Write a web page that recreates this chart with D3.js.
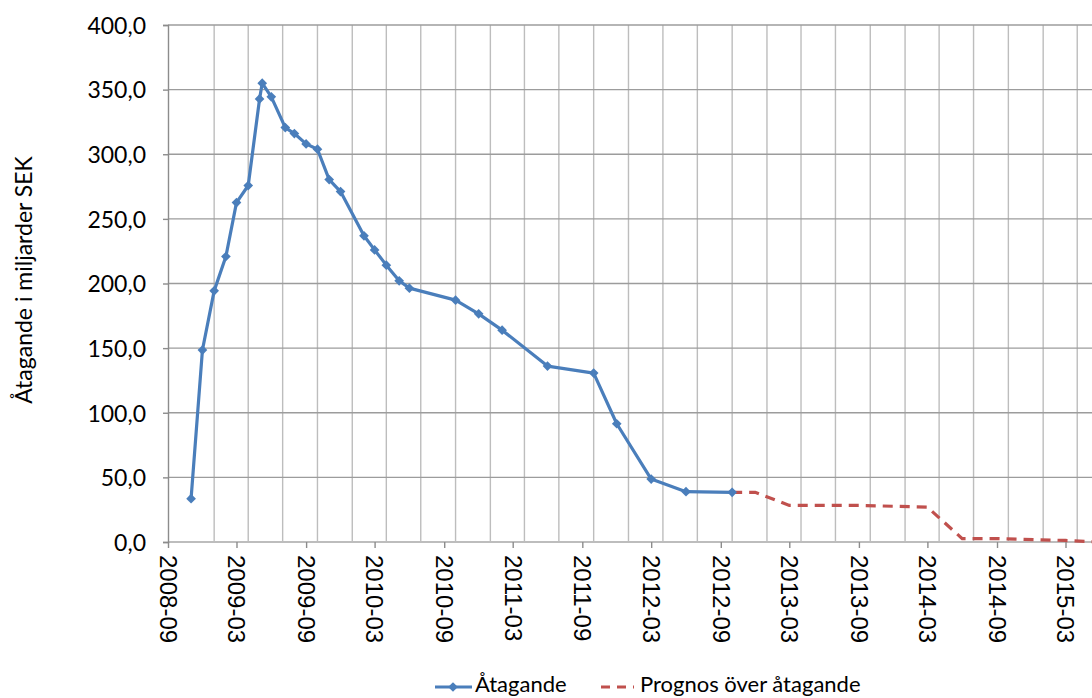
<!DOCTYPE html>
<html><head><meta charset="utf-8">
<script src="https://cdn.jsdelivr.net/npm/d3@7"></script>
<style>body{margin:0;background:#fff}svg{display:block}</style>
</head><body>
<svg id="c" width="1092" height="698"></svg>
<script>
const actualDates = ["2008-11-01","2008-12-01","2009-01-01","2009-02-01","2009-03-01","2009-04-01","2009-05-01","2009-05-08","2009-06-01","2009-07-08","2009-08-01","2009-09-01","2009-10-01","2009-11-01","2009-12-01","2010-02-01","2010-03-01","2010-04-01","2010-05-05","2010-06-01","2010-10-01","2010-12-01","2011-02-01","2011-06-01","2011-10-01","2011-12-01","2012-03-01","2012-06-01","2012-10-01"];
const actualValues = [33.5,148.5,194.3,220.9,262.6,275.8,342.8,355.0,344.4,320.6,316.0,308.0,303.9,280.4,271.1,236.9,226.0,214.2,202.1,196.4,187.1,176.5,163.9,136.1,130.7,91.5,48.7,38.9,38.4];
const forecastDates = ["2012-10-01","2012-12-01","2013-03-01","2013-09-01","2014-03-01","2014-06-01","2014-09-01","2015-03-01","2015-06-01"];
const forecastValues = [38.4,38.4,28.3,28.3,27.0,2.6,2.6,1.2,0];
const xTickLabels = ["2008-09","2009-03","2009-09","2010-03","2010-09","2011-03","2011-09","2012-03","2012-09","2013-03","2013-09","2014-03","2014-09","2015-03"];
const yTicks = [0,50,100,150,200,250,300,350,400];
const seriesNames = ["Åtagande","Prognos över åtagande"];

const parse = d3.timeParse("%Y-%m-%d");
const svg = d3.select("#c");
const pLeft = 168, pTop = 25, pBottom = 542;
const x = d3.scaleTime().domain([parse("2008-09-01"), parse("2015-03-01")]).range([pLeft, 1065.5]);
const y = d3.scaleLinear().domain([0, 400]).range([pBottom, pTop]);
const xEnd = x(parse("2015-09-01"));
const sansFont = "Lato, 'Open Sans', sans-serif";

// vertical gridlines every 3 months
const quarterTicks = d3.timeMonth.every(3).range(parse("2008-12-01"), parse("2015-09-02"));
svg.append("g").selectAll("line").data(quarterTicks).join("line")
  .attr("x1", d => x(d)).attr("x2", d => x(d)).attr("y1", pTop).attr("y2", pBottom)
  .attr("stroke", d => (d.getMonth() === 2 || d.getMonth() === 8) ? "#b8c8e4" : "#bdbdbd")
  .attr("stroke-width", 1.4);

// horizontal gridlines
svg.append("g").selectAll("line").data(yTicks).join("line")
  .attr("x1", pLeft).attr("x2", xEnd).attr("y1", d => y(d)).attr("y2", d => y(d))
  .attr("stroke", d => d === 0 ? "#bdbdbd" : "#9c9c9c").attr("stroke-width", d => d === 0 ? 2 : 1.4);

// y axis
const yAxis = d3.axisLeft(y).tickValues(yTicks).tickSize(5).tickPadding(17)
  .tickFormat(d => d3.format(".1f")(d).replace(".", ","));
const gy = svg.append("g").attr("transform", `translate(${pLeft},0)`).call(yAxis);
gy.select(".domain").attr("stroke", "#8c8c8c").attr("stroke-width", 1.4);
gy.selectAll(".tick line").attr("stroke", "#8c8c8c").attr("stroke-width", 1.4);
gy.selectAll("text").attr("font-family", sansFont).attr("font-size", 23).attr("fill", "#000").attr("dy", "0.36em");

// x axis
const majorTicks = xTickLabels.map(s => parse(s + "-01"));
const xAxis = d3.axisBottom(x).tickValues(majorTicks).tickSize(6)
  .tickFormat(d3.timeFormat("%Y-%m"));
const gx = svg.append("g").attr("transform", `translate(0,${pBottom})`).call(xAxis);
gx.select(".domain").remove();
gx.selectAll(".tick line").attr("stroke", "#8c8c8c").attr("stroke-width", 1.4);
gx.selectAll("text")
  .attr("font-family", "'Liberation Sans', Arial, sans-serif").attr("font-size", 24).attr("fill", "#000")
  .attr("text-anchor", "start").attr("dy", "0.36em")
  .attr("transform", "translate(0,13) rotate(90)").attr("y", 0).attr("x", 0);

// y title
svg.append("text").attr("transform", "translate(32,280) rotate(-90)")
  .attr("text-anchor", "middle").attr("font-family", sansFont)
  .attr("font-size", 23).attr("fill", "#000").text("Åtagande i miljarder SEK");

// series
const actual = actualDates.map((d, i) => ({d: parse(d), v: actualValues[i]}));
const forecast = forecastDates.map((d, i) => ({d: parse(d), v: forecastValues[i]}));
const line = d3.line().x(p => x(p.d)).y(p => y(p.v));

svg.append("path").datum(forecast).attr("d", line).attr("fill", "none")
  .attr("stroke", "#c0504d").attr("stroke-width", 3.2).attr("stroke-dasharray", "10,7");
svg.append("path").datum(actual).attr("d", line).attr("fill", "none")
  .attr("stroke", "#4a7ebb").attr("stroke-width", 3.2).attr("stroke-linejoin", "round");
const sym = d3.symbol().type(d3.symbolDiamond2).size(60);
svg.append("g").selectAll("path").data(actual).join("path")
  .attr("transform", p => `translate(${x(p.d)},${y(p.v)})`).attr("d", sym).attr("fill", "#4a7ebb");

// legend
const lg = svg.append("g").attr("font-family", sansFont).attr("font-size", 22);
lg.append("line").attr("x1", 435).attr("x2", 472).attr("y1", 687).attr("y2", 687).attr("stroke", "#4a7ebb").attr("stroke-width", 3.2);
lg.append("path").attr("transform", "translate(453,687)").attr("d", sym).attr("fill", "#4a7ebb");
lg.append("text").attr("x", 475).attr("y", 692).text(seriesNames[0]);
lg.append("line").attr("x1", 601).attr("x2", 634).attr("y1", 687).attr("y2", 687).attr("stroke", "#c0504d").attr("stroke-width", 3.2).attr("stroke-dasharray", "9,7");
lg.append("text").attr("x", 640).attr("y", 692).text(seriesNames[1]);
</script>
</body></html>
